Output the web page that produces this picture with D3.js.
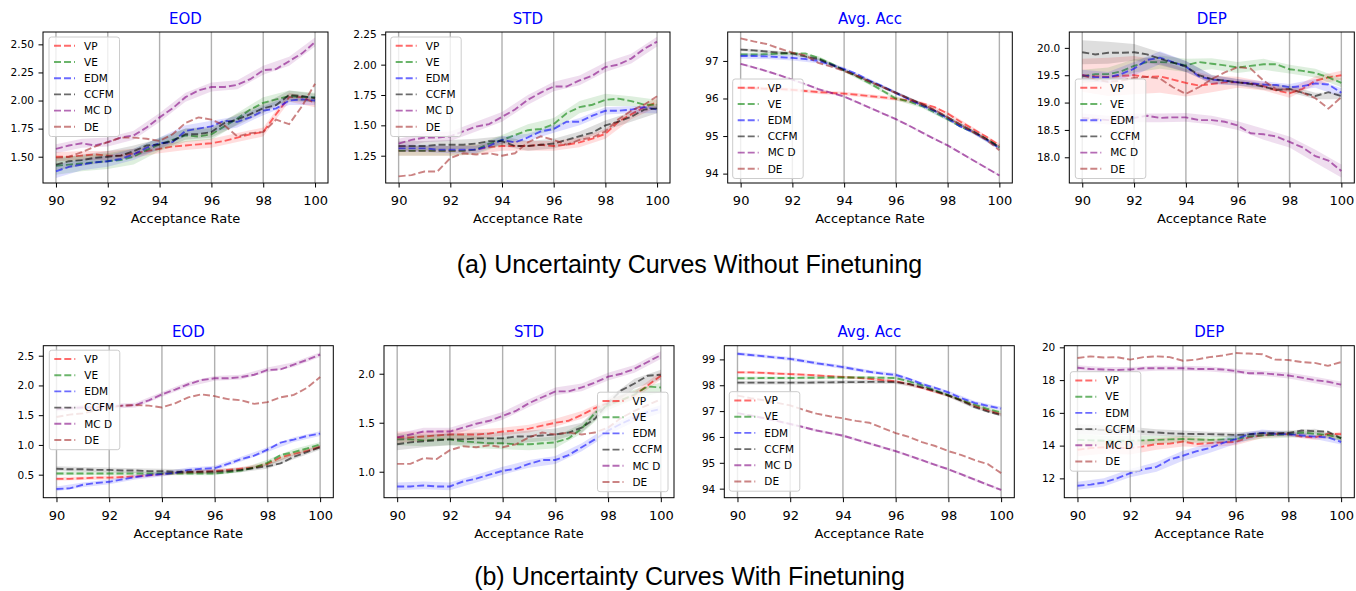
<!DOCTYPE html>
<html>
<head>
<meta charset="utf-8">
<script src="https://cdn.jsdelivr.net/npm/d3@7"></script>
<style>
  body { margin: 0; background: #fff; }
  svg { display: block; }
</style>
</head>
<body>
<svg id="chart"></svg>
<script>
// ---- data ----
const methods = ["VP", "VE", "EDM", "CCFM", "MC D", "DE"];
const colors = ["red", "green", "blue", "black", "purple", "brown"];
const rates = [90, 90.5, 91, 91.5, 92, 92.5, 93, 93.5, 94, 94.5, 95, 95.5, 96, 96.5, 97, 97.5, 98, 98.5, 99, 99.5, 100];
const bandRates = [90, 91, 92, 93, 94, 95, 96, 97, 98, 99, 100];
const xTicks = [90, 92, 94, 96, 98, 100];

// (a) without finetuning
const eodA = [
  [1.50,1.50,1.51,1.52,1.51,1.51,1.53,1.55,1.57,1.59,1.60,1.61,1.62,1.64,1.67,1.70,1.72,1.88,2.03,2.03,1.98],
  [1.42,1.43,1.44,1.45,1.46,1.47,1.50,1.56,1.61,1.65,1.69,1.68,1.70,1.77,1.84,1.92,1.98,2.01,2.04,2.03,2.03],
  [1.37,1.41,1.43,1.45,1.46,1.48,1.52,1.58,1.62,1.63,1.73,1.75,1.77,1.82,1.81,1.85,1.91,1.93,2.00,2.01,2.00],
  [1.43,1.46,1.47,1.49,1.50,1.51,1.55,1.60,1.61,1.64,1.70,1.70,1.72,1.80,1.83,1.88,1.93,1.96,2.05,2.04,2.02],
  [1.57,1.60,1.62,1.60,1.63,1.67,1.69,1.76,1.85,1.93,2.03,2.09,2.12,2.12,2.14,2.19,2.27,2.28,2.35,2.42,2.52],
  [1.49,1.50,1.54,1.59,1.63,1.67,1.67,1.66,1.64,1.70,1.80,1.85,1.83,1.78,1.68,1.71,1.72,1.83,1.79,1.95,2.15]
];
const eodABand = [
  [0.04,0.04,0.04,0.04,0.04,0.04,0.04,0.04,0.04,0.04,0.04],
  [0.08,0.07,0.07,0.07,0.06,0.06,0.05,0.05,0.05,0.05,0.04],
  [0.06,0.05,0.05,0.05,0.05,0.05,0.05,0.05,0.04,0.04,0.04],
  [0.05,0.05,0.05,0.05,0.05,0.05,0.05,0.05,0.04,0.04,0.04],
  [0.04,0.04,0.04,0.04,0.04,0.04,0.04,0.04,0.04,0.04,0.04],
  [0,0,0,0,0,0,0,0,0,0,0]
];
const stdA = [
  [1.29,1.29,1.29,1.29,1.29,1.29,1.30,1.32,1.33,1.33,1.33,1.34,1.33,1.34,1.36,1.39,1.43,1.53,1.59,1.65,1.69],
  [1.29,1.29,1.29,1.29,1.29,1.29,1.30,1.35,1.38,1.42,1.46,1.47,1.51,1.60,1.65,1.67,1.71,1.72,1.70,1.67,1.67],
  [1.31,1.31,1.31,1.30,1.30,1.30,1.30,1.33,1.38,1.36,1.40,1.45,1.47,1.53,1.53,1.58,1.62,1.62,1.63,1.65,1.63],
  [1.33,1.33,1.33,1.34,1.34,1.34,1.35,1.37,1.37,1.33,1.33,1.34,1.35,1.38,1.41,1.44,1.50,1.53,1.57,1.63,1.64],
  [1.35,1.38,1.40,1.40,1.41,1.45,1.49,1.51,1.57,1.63,1.71,1.77,1.82,1.82,1.87,1.91,1.98,2.00,2.05,2.13,2.19],
  [1.08,1.09,1.12,1.12,1.23,1.27,1.26,1.27,1.25,1.27,1.36,1.41,1.38,1.34,1.38,1.40,1.45,1.55,1.62,1.67,1.74]
];
const stdABand = [
  [0.04,0.04,0.04,0.04,0.04,0.04,0.04,0.04,0.04,0.04,0.04],
  [0.04,0.04,0.04,0.04,0.04,0.05,0.05,0.05,0.05,0.04,0.04],
  [0.03,0.03,0.03,0.03,0.03,0.03,0.03,0.03,0.03,0.03,0.03],
  [0.04,0.04,0.04,0.04,0.04,0.04,0.04,0.04,0.04,0.04,0.04],
  [0.04,0.04,0.04,0.04,0.04,0.04,0.04,0.04,0.04,0.04,0.04],
  [0,0,0,0,0,0,0,0,0,0,0]
];
const accA = [
  [96.28,96.27,96.26,96.25,96.23,96.20,96.17,96.15,96.13,96.10,96.06,96.03,95.99,95.95,95.87,95.77,95.60,95.38,95.18,94.98,94.75],
  [97.17,97.17,97.18,97.19,97.20,97.20,97.08,96.93,96.75,96.58,96.40,96.20,96.00,95.92,95.80,95.63,95.45,95.25,95.10,94.92,94.70],
  [97.13,97.13,97.12,97.10,97.08,97.05,97.00,96.90,96.78,96.65,96.47,96.32,96.15,95.98,95.82,95.67,95.47,95.25,95.10,94.90,94.68],
  [97.30,97.28,97.25,97.22,97.20,97.12,97.05,96.90,96.75,96.60,96.45,96.30,96.15,96.00,95.85,95.68,95.50,95.30,95.12,94.92,94.70],
  [96.92,96.83,96.73,96.62,96.50,96.38,96.25,96.15,96.05,95.90,95.75,95.60,95.45,95.28,95.10,94.92,94.75,94.55,94.35,94.15,93.95],
  [97.60,97.52,97.45,97.33,97.22,97.15,96.95,96.85,96.73,96.60,96.45,96.30,96.15,96.00,95.85,95.70,95.50,95.30,95.10,94.90,94.62]
];
const accABand = [
  [0.05,0.05,0.05,0.05,0.05,0.05,0.05,0.05,0.05,0.05,0.05],
  [0.05,0.05,0.05,0.05,0.05,0.05,0.05,0.05,0.05,0.05,0.05],
  [0.07,0.07,0.07,0.06,0.05,0.05,0.05,0.05,0.05,0.05,0.05],
  [0.04,0.04,0.04,0.04,0.04,0.04,0.04,0.04,0.04,0.04,0.04],
  [0.03,0.03,0.03,0.03,0.03,0.03,0.03,0.03,0.03,0.03,0.03],
  [0,0,0,0,0,0,0,0,0,0,0]
];
const depA = [
  [19.50,19.48,19.47,19.49,19.50,19.47,19.48,19.42,19.36,19.31,19.34,19.37,19.37,19.35,19.30,19.22,19.17,19.25,19.40,19.46,19.50],
  [19.48,19.52,19.52,19.57,19.67,19.74,19.74,19.73,19.68,19.74,19.71,19.68,19.64,19.67,19.70,19.70,19.61,19.58,19.54,19.46,19.36],
  [19.50,19.46,19.46,19.52,19.62,19.78,19.82,19.74,19.66,19.48,19.42,19.40,19.37,19.35,19.33,19.32,19.28,19.30,19.35,19.33,19.18],
  [19.92,19.88,19.91,19.91,19.92,19.88,19.80,19.73,19.66,19.50,19.43,19.40,19.37,19.34,19.29,19.23,19.25,19.18,19.12,19.19,19.12],
  [18.72,18.70,18.68,18.66,18.72,18.76,18.72,18.73,18.73,18.68,18.68,18.65,18.58,18.44,18.42,18.38,18.28,18.18,18.02,17.94,17.75],
  [19.50,19.42,19.38,19.40,19.45,19.47,19.44,19.28,19.16,19.28,19.43,19.55,19.65,19.62,19.40,19.24,19.24,19.18,19.08,18.89,19.10]
];
const depABand = [
  [0.30,0.35,0.35,0.30,0.25,0.15,0.10,0.08,0.08,0.08,0.08],
  [0.12,0.12,0.12,0.12,0.12,0.10,0.10,0.10,0.08,0.08,0.08],
  [0.10,0.10,0.12,0.12,0.10,0.08,0.06,0.06,0.06,0.08,0.08],
  [0.22,0.20,0.15,0.12,0.10,0.08,0.06,0.06,0.06,0.06,0.06],
  [0.08,0.08,0.08,0.08,0.08,0.08,0.08,0.10,0.10,0.12,0.12],
  [0,0,0,0,0,0,0,0,0,0,0]
];

// (b) with finetuning
const eodB = [
  [0.43,0.43,0.44,0.45,0.45,0.46,0.47,0.49,0.51,0.53,0.54,0.55,0.56,0.58,0.60,0.62,0.68,0.79,0.85,0.90,0.97],
  [0.52,0.52,0.52,0.52,0.52,0.52,0.52,0.52,0.52,0.52,0.52,0.52,0.52,0.54,0.57,0.62,0.70,0.83,0.88,0.94,1.01],
  [0.26,0.27,0.33,0.36,0.38,0.42,0.46,0.49,0.51,0.53,0.58,0.60,0.61,0.68,0.76,0.82,0.92,1.04,1.09,1.15,1.19],
  [0.60,0.59,0.59,0.58,0.58,0.57,0.57,0.56,0.56,0.55,0.55,0.55,0.55,0.56,0.58,0.61,0.64,0.69,0.80,0.88,0.96],
  [1.60,1.62,1.63,1.63,1.65,1.66,1.67,1.75,1.85,1.93,2.02,2.09,2.12,2.12,2.14,2.18,2.26,2.27,2.35,2.43,2.52],
  [1.47,1.51,1.53,1.58,1.63,1.66,1.67,1.66,1.63,1.70,1.80,1.85,1.82,1.77,1.75,1.69,1.72,1.80,1.84,1.96,2.14]
];
const eodBBand = [
  [0.03,0.03,0.03,0.03,0.03,0.03,0.03,0.03,0.03,0.03,0.03],
  [0.03,0.03,0.03,0.03,0.03,0.03,0.03,0.03,0.05,0.05,0.04],
  [0.04,0.04,0.04,0.04,0.04,0.04,0.04,0.04,0.04,0.04,0.04],
  [0.04,0.04,0.04,0.04,0.04,0.04,0.04,0.04,0.04,0.04,0.04],
  [0.04,0.04,0.04,0.04,0.04,0.04,0.04,0.04,0.04,0.04,0.04],
  [0,0,0,0,0,0,0,0,0,0,0]
];
const stdB = [
  [1.35,1.35,1.36,1.37,1.38,1.38,1.38,1.39,1.41,1.42,1.44,1.47,1.50,1.52,1.58,1.65,1.70,1.73,1.78,1.88,1.98],
  [1.33,1.33,1.32,1.33,1.33,1.31,1.30,1.29,1.29,1.28,1.28,1.29,1.30,1.34,1.44,1.60,1.68,1.73,1.79,1.87,1.86],
  [0.85,0.85,0.86,0.85,0.85,0.90,0.93,0.97,1.01,1.03,1.08,1.12,1.12,1.17,1.25,1.33,1.42,1.49,1.55,1.61,1.64],
  [1.28,1.30,1.31,1.32,1.33,1.33,1.34,1.34,1.34,1.36,1.36,1.37,1.38,1.40,1.45,1.54,1.70,1.83,1.90,1.98,1.99],
  [1.35,1.38,1.41,1.41,1.41,1.45,1.49,1.52,1.57,1.62,1.70,1.76,1.82,1.82,1.86,1.91,1.97,2.00,2.05,2.12,2.19],
  [1.08,1.08,1.14,1.13,1.22,1.26,1.25,1.27,1.25,1.28,1.35,1.40,1.38,1.40,1.38,1.40,1.45,1.55,1.62,1.68,1.74]
];
const stdBBand = [
  [0.06,0.05,0.05,0.05,0.04,0.04,0.04,0.04,0.04,0.04,0.04],
  [0.06,0.06,0.06,0.06,0.06,0.06,0.06,0.05,0.05,0.05,0.05],
  [0.04,0.04,0.04,0.04,0.04,0.04,0.04,0.04,0.04,0.04,0.04],
  [0.06,0.06,0.06,0.06,0.06,0.06,0.06,0.05,0.05,0.05,0.05],
  [0.04,0.04,0.04,0.04,0.04,0.04,0.04,0.04,0.04,0.04,0.04],
  [0,0,0,0,0,0,0,0,0,0,0]
];
const accB = [
  [98.50,98.50,98.48,98.45,98.43,98.41,98.38,98.35,98.32,98.29,98.25,98.20,98.15,98.05,97.90,97.75,97.60,97.42,97.20,97.02,96.88],
  [98.27,98.27,98.28,98.28,98.28,98.29,98.29,98.30,98.30,98.30,98.30,98.29,98.28,98.15,98.00,97.80,97.62,97.42,97.25,97.08,96.95],
  [99.22,99.17,99.12,99.07,99.02,98.94,98.85,98.78,98.70,98.61,98.52,98.45,98.40,98.25,98.05,97.90,97.72,97.50,97.32,97.20,97.10],
  [98.10,98.10,98.10,98.10,98.10,98.10,98.11,98.11,98.12,98.12,98.13,98.13,98.12,98.05,97.92,97.78,97.60,97.40,97.15,96.98,96.85],
  [96.92,96.83,96.73,96.62,96.50,96.38,96.25,96.15,96.05,95.90,95.75,95.60,95.45,95.28,95.10,94.92,94.75,94.55,94.35,94.15,93.95],
  [97.60,97.50,97.42,97.32,97.22,97.05,96.90,96.80,96.72,96.62,96.55,96.35,96.15,96.00,95.80,95.65,95.45,95.30,95.10,94.95,94.60]
];
const accBBand = [
  [0.05,0.05,0.05,0.05,0.05,0.05,0.05,0.05,0.05,0.05,0.05],
  [0.06,0.06,0.06,0.06,0.06,0.06,0.06,0.06,0.06,0.06,0.06],
  [0.07,0.07,0.07,0.07,0.07,0.07,0.07,0.07,0.07,0.07,0.07],
  [0.07,0.07,0.07,0.07,0.07,0.07,0.07,0.06,0.06,0.06,0.06],
  [0.05,0.05,0.05,0.05,0.05,0.05,0.05,0.05,0.05,0.05,0.05],
  [0,0,0,0,0,0,0,0,0,0,0]
];
const depB = [
  [13.75,13.85,13.90,13.88,13.85,13.95,14.10,14.12,14.25,14.10,14.15,14.20,14.22,14.50,14.62,14.70,14.70,14.55,14.50,14.72,14.70],
  [14.35,14.32,14.30,14.30,14.30,14.32,14.35,14.38,14.40,14.38,14.35,14.38,14.40,14.55,14.62,14.65,14.68,14.80,14.72,14.65,14.45],
  [11.55,11.62,11.75,12.00,12.32,12.55,12.70,13.15,13.38,13.65,13.85,14.15,14.40,14.70,14.78,14.72,14.70,14.62,14.55,14.50,14.22],
  [15.00,14.98,14.95,14.92,14.90,14.85,14.80,14.75,14.72,14.71,14.70,14.68,14.65,14.68,14.75,14.76,14.78,14.92,14.88,14.85,14.45],
  [18.75,18.68,18.65,18.62,18.65,18.72,18.72,18.72,18.72,18.68,18.68,18.65,18.55,18.42,18.42,18.35,18.28,18.15,18.00,17.90,17.72],
  [19.35,19.45,19.38,19.40,19.25,19.40,19.45,19.40,19.18,19.25,19.40,19.50,19.65,19.62,19.58,19.25,19.23,19.10,19.05,18.87,19.10]
];
const depBBand = [
  [0.40,0.40,0.40,0.35,0.30,0.25,0.20,0.15,0.15,0.15,0.15],
  [0.35,0.30,0.30,0.25,0.20,0.20,0.20,0.20,0.20,0.15,0.15],
  [0.25,0.25,0.25,0.30,0.30,0.30,0.30,0.20,0.15,0.15,0.15],
  [0.30,0.30,0.25,0.20,0.20,0.15,0.15,0.15,0.15,0.15,0.15],
  [0.15,0.15,0.15,0.15,0.15,0.15,0.15,0.15,0.18,0.20,0.20],
  [0,0,0,0,0,0,0,0,0,0,0]
];

const titles = ["EOD", "STD", "Avg. Acc", "DEP"];
const yTicksA = [[1.5, 1.75, 2.0, 2.25, 2.5], [1.25, 1.5, 1.75, 2.0, 2.25], [94, 95, 96, 97], [18, 18.5, 19, 19.5, 20]];
const yTicksB = [[0.5, 1.0, 1.5, 2.0, 2.5], [1.0, 1.5, 2.0], [94, 95, 96, 97, 98, 99], [12, 14, 16, 18, 20]];
const yDomainsA = [[1.266, 2.61], [1.025, 2.269], [93.75, 97.77], [17.53, 20.29]];
const yDomainsB = [[0.113, 2.668], [0.735, 2.286], [93.65, 99.53], [10.82, 20.1]];
const captions = ["(a) Uncertainty Curves Without Finetuning", "(b) Uncertainty Curves With Finetuning"];

// ---- layout ----
const width = 1356;
const height = 591;
const svg = d3.select("#chart").attr("width", width).attr("height", height);

const panels = [
  { title: titles[0], series: eodA, bands: eodABand, yDomain: yDomainsA[0], yTicks: yTicksA[0], fmt: ".2f",
    box: [43, 328, 32, 183], legend: { corner: "tl", dx: 6, dy: 5 } },
  { title: titles[1], series: stdA, bands: stdABand, yDomain: yDomainsA[1], yTicks: yTicksA[1], fmt: ".2f",
    box: [385.7, 670, 32, 183], legend: { corner: "tl", dx: 5, dy: 5 } },
  { title: titles[2], series: accA, bands: accABand, yDomain: yDomainsA[2], yTicks: yTicksA[2], fmt: "d",
    box: [727.7, 1012.3, 32, 183], legend: { corner: "tl", dx: 5, dy: 47 } },
  { title: titles[3], series: depA, bands: depABand, yDomain: yDomainsA[3], yTicks: yTicksA[3], fmt: ".1f",
    box: [1069.3, 1354.3, 32, 183], legend: { corner: "tl", dx: 6, dy: 47 } },
  { title: titles[0], series: eodB, bands: eodBBand, yDomain: yDomainsB[0], yTicks: yTicksB[0], fmt: ".1f",
    box: [43.3, 333.3, 345.7, 497.7], legend: { corner: "tl", dx: 6, dy: 4.5 } },
  { title: titles[1], series: stdB, bands: stdBBand, yDomain: yDomainsB[1], yTicks: yTicksB[1], fmt: ".1f",
    box: [384, 674, 345.7, 497.7], legend: { corner: "br", dx: 6, dy: 6 } },
  { title: titles[2], series: accB, bands: accBBand, yDomain: yDomainsB[2], yTicks: yTicksB[2], fmt: "d",
    box: [724.3, 1014.3, 345.7, 497.7], legend: { corner: "tl", dx: 5, dy: 46 } },
  { title: titles[3], series: depB, bands: depBBand, yDomain: yDomainsB[3], yTicks: yTicksB[3], fmt: "d",
    box: [1064.3, 1354.3, 345.7, 497.7], legend: { corner: "tl", dx: 6, dy: 26 } }
];

const FONT = "DejaVu Sans, sans-serif";
const legendW = 70.5;
const legendH = 99.5;
const rowH = 16.2;

panels.forEach((p, pi) => drawPanel(p, pi));

function drawPanel(p, pi) {
  const [left, right, top, bottom] = p.box;
  const g = svg.append("g");

  const x = d3.scaleLinear().domain([89.5, 100.5]).range([left, right]);
  const y = d3.scaleLinear().domain(p.yDomain).range([bottom, top]);

  const clipId = "clip" + pi;
  g.append("clipPath").attr("id", clipId)
    .append("rect")
    .attr("x", left).attr("y", top)
    .attr("width", right - left).attr("height", bottom - top);

  // vertical grid
  g.append("g")
    .selectAll("line")
    .data(xTicks)
    .join("line")
    .attr("x1", (d) => x(d)).attr("x2", (d) => x(d))
    .attr("y1", top).attr("y2", bottom)
    .attr("stroke", "#b0b0b0")
    .attr("stroke-width", 1.4);

  const plot = g.append("g").attr("clip-path", `url(#${clipId})`);

  const area = d3.area()
    .x((d) => x(d.r))
    .y0((d) => y(d.lo))
    .y1((d) => y(d.hi));
  const line = d3.line()
    .x((d, i) => x(rates[i]))
    .y((d) => y(d));

  p.series.forEach((vals, si) => {
    const bw = p.bands[si];
    const bandData = bandRates.map((r, i) => ({ r, lo: vals[2 * i] - bw[i], hi: vals[2 * i] + bw[i] }));
    if (d3.max(bw) > 0) {
      plot.append("path")
        .datum(bandData)
        .attr("d", area)
        .attr("fill", colors[si])
        .attr("fill-opacity", 0.13)
        .attr("stroke", "none");
    }
    plot.append("path")
      .datum(vals)
      .attr("d", line)
      .attr("fill", "none")
      .attr("stroke", colors[si])
      .attr("stroke-opacity", 0.58)
      .attr("stroke-width", 1.9)
      .attr("stroke-dasharray", "7,3");
  });

  // x axis
  const xAxis = g.append("g")
    .attr("transform", `translate(0,${bottom})`)
    .call(d3.axisBottom(x).tickValues(xTicks).tickSize(4.5).tickPadding(8.3).tickFormat(d3.format("d")));
  xAxis.select(".domain").remove();
  xAxis.selectAll("text").attr("font-family", FONT).attr("font-size", 13).attr("fill", "#000");
  xAxis.selectAll("line").attr("stroke", "#000").attr("stroke-width", 1);

  // y axis
  const yAxis = g.append("g")
    .attr("transform", `translate(${left},0)`)
    .call(d3.axisLeft(y).tickValues(p.yTicks).tickSize(4.5).tickPadding(4.5).tickFormat(d3.format(p.fmt)));
  yAxis.select(".domain").remove();
  yAxis.selectAll("text").attr("font-family", FONT).attr("font-size", 10.5).attr("fill", "#000");
  yAxis.selectAll("line").attr("stroke", "#000").attr("stroke-width", 1);

  // frame
  g.append("rect")
    .attr("x", left).attr("y", top)
    .attr("width", right - left).attr("height", bottom - top)
    .attr("fill", "none")
    .attr("stroke", "#000")
    .attr("stroke-width", 1);

  // title
  g.append("text")
    .attr("x", (left + right) / 2)
    .attr("y", top - 8.5)
    .attr("text-anchor", "middle")
    .attr("font-family", FONT)
    .attr("font-size", 15)
    .attr("fill", "blue")
    .text(p.title);

  // x label
  g.append("text")
    .attr("x", (left + right) / 2)
    .attr("y", bottom + 40)
    .attr("text-anchor", "middle")
    .attr("font-family", FONT)
    .attr("font-size", 13)
    .attr("fill", "#000")
    .text("Acceptance Rate");

  // legend
  let lx, ly;
  if (p.legend.corner === "br") {
    lx = right - p.legend.dx - legendW;
    ly = bottom - p.legend.dy - legendH;
  } else {
    lx = left + p.legend.dx;
    ly = top + p.legend.dy;
  }
  const lg = g.append("g").attr("transform", `translate(${lx},${ly})`);
  lg.append("rect")
    .attr("width", legendW).attr("height", legendH)
    .attr("rx", 2.5)
    .attr("fill", "#fff").attr("fill-opacity", 0.8)
    .attr("stroke", "#cccccc").attr("stroke-width", 1);
  const rows = lg.selectAll("g.row")
    .data(methods)
    .join("g")
    .attr("class", "row")
    .attr("transform", (d, i) => `translate(0,${8.8 + i * rowH})`);
  rows.append("line")
    .attr("x1", 5).attr("x2", 26)
    .attr("stroke", (d, i) => colors[i])
    .attr("stroke-opacity", 0.58)
    .attr("stroke-width", 1.9)
    .attr("stroke-dasharray", "7,3");
  rows.append("text")
    .attr("x", 35)
    .attr("dy", "0.36em")
    .attr("font-family", FONT)
    .attr("font-size", 10.5)
    .attr("fill", "#000")
    .text((d) => d);
}

// captions
svg.selectAll("text.caption")
  .data(captions)
  .join("text")
  .attr("class", "caption")
  .attr("x", 689.5)
  .attr("y", (d, i) => (i === 0 ? 273 : 584.5))
  .attr("text-anchor", "middle")
  .attr("font-family", "Liberation Sans, Arial, sans-serif")
  .attr("font-size", 25)
  .attr("fill", "#000")
  .text((d) => d);
</script>
</body>
</html>
